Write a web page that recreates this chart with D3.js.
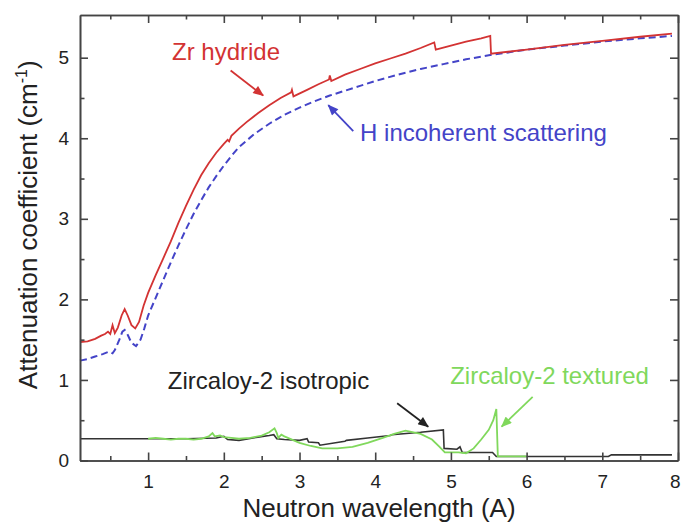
<!DOCTYPE html>
<html>
<head>
<meta charset="utf-8">
<script src="https://cdn.jsdelivr.net/npm/d3@7"></script>
<style>
  body { margin: 0; background: #fff; }
  svg { display: block; font-family: Arial, "Liberation Sans", sans-serif; }
  .axis path, .axis line { stroke: #444; stroke-width: 1.6; }
  .axis text { font-size: 19px; fill: #222; }
</style>
</head>
<body>
<script>
// values
const xTicks = [1, 2, 3, 4, 5, 6, 7, 8]
const xMinor = [0.5, 1.5, 2.5, 3.5, 4.5, 5.5, 6.5, 7.5]
const yTicks = [0, 1, 2, 3, 4, 5]
const yMinor = [0.5, 1.5, 2.5, 3.5, 4.5]

const hydrideX = [0.1, 0.2, 0.3, 0.38, 0.43, 0.47, 0.5, 0.53, 0.56, 0.6, 0.65, 0.69, 0.73, 0.78, 0.83, 0.88, 0.94, 1.0, 1.1, 1.2, 1.3, 1.4, 1.5, 1.6, 1.7, 1.8, 1.9, 2.0, 2.05, 2.07, 2.1, 2.2, 2.3, 2.45, 2.6, 2.75, 2.89, 2.9, 2.92, 3.1, 3.25, 3.39, 3.4, 3.42, 3.6, 3.8, 4.0, 4.2, 4.4, 4.6, 4.78, 4.8, 5.0, 5.2, 5.4, 5.52, 5.53, 6.0, 6.5, 7.0, 7.5, 7.92]
const hydrideY = [1.47, 1.48, 1.51, 1.55, 1.57, 1.6, 1.57, 1.68, 1.58, 1.65, 1.8, 1.88, 1.8, 1.68, 1.64, 1.72, 1.92, 2.08, 2.3, 2.51, 2.72, 2.95, 3.16, 3.36, 3.54, 3.69, 3.82, 3.93, 3.98, 3.96, 4.03, 4.12, 4.2, 4.31, 4.41, 4.5, 4.57, 4.6, 4.52, 4.6, 4.67, 4.73, 4.78, 4.71, 4.79, 4.86, 4.93, 4.99, 5.05, 5.12, 5.19, 5.1, 5.15, 5.2, 5.24, 5.27, 5.05, 5.1, 5.16, 5.21, 5.26, 5.3]

const hIncX = [0.1, 0.2, 0.3, 0.4, 0.48, 0.53, 0.56, 0.62, 0.66, 0.69, 0.73, 0.78, 0.84, 0.9, 0.95, 1.0, 1.1, 1.2, 1.3, 1.4, 1.5, 1.6, 1.7, 1.8, 1.9, 2.0, 2.1, 2.2, 2.4, 2.6, 2.8, 3.0, 3.2, 3.4, 3.6, 3.8, 4.0, 4.3, 4.6, 4.9, 5.2, 5.5, 6.0, 6.5, 7.0, 7.5, 7.92]
const hIncY = [1.24, 1.26, 1.29, 1.32, 1.35, 1.33, 1.37, 1.5, 1.6, 1.62, 1.56, 1.46, 1.42, 1.5, 1.64, 1.8, 2.02, 2.24, 2.46, 2.67, 2.87, 3.06, 3.23, 3.39, 3.53, 3.66, 3.78, 3.89, 4.05, 4.18, 4.29, 4.38, 4.46, 4.53, 4.59, 4.65, 4.71, 4.79, 4.86, 4.92, 4.98, 5.03, 5.1, 5.15, 5.2, 5.24, 5.27]

const isoX = [0.1, 1.0, 1.5, 1.9, 2.0, 2.05, 2.2, 2.45, 2.6, 2.66, 2.7, 2.8, 3.0, 3.1, 3.12, 3.25, 3.27, 3.6, 3.62, 3.9, 4.2, 4.22, 4.6, 4.9, 4.91, 5.08, 5.12, 5.15, 5.55, 5.6, 6.5, 7.08, 7.12, 7.92]
const isoY = [0.27, 0.27, 0.27, 0.28, 0.3, 0.26, 0.25, 0.29, 0.31, 0.32, 0.27, 0.26, 0.25, 0.27, 0.23, 0.22, 0.19, 0.24, 0.25, 0.28, 0.31, 0.32, 0.35, 0.38, 0.15, 0.14, 0.17, 0.1, 0.1, 0.05, 0.05, 0.05, 0.07, 0.07]

const texX = [1.0, 1.1, 1.2, 1.3, 1.4, 1.5, 1.6, 1.7, 1.8, 1.85, 1.88, 1.95, 2.0, 2.1, 2.2, 2.35, 2.5, 2.6, 2.67, 2.7, 2.72, 2.76, 2.8, 2.9, 3.0, 3.15, 3.3, 3.5, 3.7, 3.9, 4.1, 4.25, 4.4, 4.6, 4.75, 4.85, 4.92, 5.1, 5.2, 5.3, 5.4, 5.5, 5.56, 5.6, 5.62, 6.0]
const texY = [0.27, 0.28, 0.27, 0.26, 0.27, 0.27, 0.26, 0.27, 0.3, 0.34, 0.3, 0.31, 0.29, 0.28, 0.27, 0.28, 0.31, 0.35, 0.4, 0.34, 0.28, 0.32, 0.3, 0.26, 0.22, 0.18, 0.15, 0.15, 0.17, 0.22, 0.28, 0.33, 0.37, 0.33, 0.26, 0.17, 0.1, 0.1, 0.09, 0.15, 0.26, 0.38, 0.5, 0.64, 0.05, 0.05]

const WIDTH = 682
const HEIGHT = 526
const margin = { top: 15, right: 4, bottom: 65.5, left: 80 }

const svg = d3.select('body')
  .append('svg')
  .attr('width', WIDTH)
  .attr('height', HEIGHT)

const x = d3.scaleLinear()
  .domain([0.1, 8])
  .range([margin.left, WIDTH - margin.right])

const y = d3.scaleLinear()
  .domain([0, 5.53])
  .range([HEIGHT - margin.bottom, margin.top])

const x0 = margin.left, x1 = WIDTH - margin.right
const y0 = HEIGHT - margin.bottom, y1 = margin.top

// arrow heads
const defs = svg.append('defs')
function marker(id, color) {
  defs.append('marker')
    .attr('id', id)
    .attr('viewBox', '0 0 12 10')
    .attr('refX', 11)
    .attr('refY', 5)
    .attr('markerUnits', 'userSpaceOnUse')
    .attr('markerWidth', 12)
    .attr('markerHeight', 9)
    .attr('orient', 'auto')
    .append('path')
    .attr('d', 'M0,0 L12,5 L0,10 Z')
    .attr('fill', color)
}

const RED = '#d33333'
const BLUE = '#4444c8'
const BLACK = '#222'
const GREEN = '#80d85c'

marker('a-red', RED)
marker('a-blue', BLUE)
marker('a-black', BLACK)
marker('a-green', GREEN)

const line = d3.line()
  .x(d => x(d[0]))
  .y(d => y(d[1]))

const zip = (xs, ys) => xs.map((v, i) => [v, ys[i]])

svg.append('path')
  .datum(zip(isoX, isoY))
  .attr('fill', 'none')
  .attr('stroke', '#333')
  .attr('stroke-width', 1.6)
  .attr('d', line)

svg.append('path')
  .datum(zip(texX, texY))
  .attr('fill', 'none')
  .attr('stroke', GREEN)
  .attr('stroke-width', 1.8)
  .attr('d', line)

svg.append('path')
  .datum(zip(hIncX, hIncY))
  .attr('fill', 'none')
  .attr('stroke', BLUE)
  .attr('stroke-width', 2)
  .attr('stroke-dasharray', '7,4')
  .attr('d', line)

svg.append('path')
  .datum(zip(hydrideX, hydrideY))
  .attr('fill', 'none')
  .attr('stroke', RED)
  .attr('stroke-width', 1.8)
  .attr('d', line)

// axes: ticks point inward on all four sides
const axes = svg.append('g').attr('class', 'axis')

const bottom = axes.append('g')
  .attr('transform', `translate(0,${y0})`)
  .call(d3.axisBottom(x).tickValues(xTicks).tickSize(-8).tickSizeOuter(0).tickPadding(14).tickFormat(d3.format('d')))
axes.append('g')
  .attr('transform', `translate(0,${y0})`)
  .call(d3.axisBottom(x).tickValues(xMinor).tickSize(-4.5).tickSizeOuter(0).tickFormat(''))
axes.append('g')
  .attr('transform', `translate(0,${y1})`)
  .call(d3.axisTop(x).tickValues(xTicks).tickSize(-8).tickSizeOuter(0).tickFormat(''))
axes.append('g')
  .attr('transform', `translate(0,${y1})`)
  .call(d3.axisTop(x).tickValues(xMinor).tickSize(-4.5).tickSizeOuter(0).tickFormat(''))

axes.append('g')
  .attr('transform', `translate(${x0},0)`)
  .call(d3.axisLeft(y).tickValues(yTicks).tickSize(-8).tickSizeOuter(0).tickPadding(11).tickFormat(d3.format('d')))
axes.append('g')
  .attr('transform', `translate(${x0},0)`)
  .call(d3.axisLeft(y).tickValues(yMinor).tickSize(-4.5).tickSizeOuter(0).tickFormat(''))
axes.append('g')
  .attr('transform', `translate(${x1},0)`)
  .call(d3.axisRight(y).tickValues(yTicks).tickSize(-8).tickSizeOuter(0).tickFormat(''))
axes.append('g')
  .attr('transform', `translate(${x1},0)`)
  .call(d3.axisRight(y).tickValues(yMinor).tickSize(-4.5).tickSizeOuter(0).tickFormat(''))

axes.selectAll('text').attr('font-family', null).style('font-size', '19px')
// last label sits on the window edge; keep it inside
bottom.selectAll('.tick text').filter(d => d === 8).attr('text-anchor', 'end').attr('dx', 2)

// axis titles
svg.append('text')
  .attr('x', (x0 + x1) / 2)
  .attr('y', 517)
  .attr('text-anchor', 'middle')
  .style('font-size', '26px')
  .attr('fill', '#222')
  .text('Neutron wavelength (A)')

const yTitle = svg.append('text')
  .attr('transform', `translate(37,${(y0 + y1) / 2 - 13}) rotate(-90)`)
  .attr('text-anchor', 'middle')
  .style('font-size', '26px')
  .attr('fill', '#222')
yTitle.append('tspan').text('Attenuation coefficient (cm')
yTitle.append('tspan').attr('dy', -10).style('font-size', '16px').text('-1')
yTitle.append('tspan').attr('dy', 10).text(')')

// annotations
const labels = [
  { text: 'Zr hydride', at: [1.315, 4.97], color: RED, from: [2.09, 4.84], to: [2.52, 4.53], arrow: 'a-red' },
  { text: 'H incoherent scattering', at: [3.8, 3.96], color: BLUE, from: [3.71, 4.09], to: [3.38, 4.41], arrow: 'a-blue' },
  { text: 'Zircaloy-2 isotropic', at: [1.26, 0.887], color: BLACK, from: [4.29, 0.71], to: [4.70, 0.42], arrow: 'a-black' },
  { text: 'Zircaloy-2 textured', at: [4.99, 0.955], color: GREEN, from: [6.08, 0.79], to: [5.67, 0.42], arrow: 'a-green' },
]

svg.selectAll('.label')
  .data(labels)
  .enter()
  .append('text')
  .attr('class', 'label')
  .attr('x', d => x(d.at[0]))
  .attr('y', d => y(d.at[1]))
  .attr('fill', d => d.color)
  .style('font-size', '24px')
  .text(d => d.text)

svg.selectAll('.arrow')
  .data(labels)
  .enter()
  .append('line')
  .attr('class', 'arrow')
  .attr('x1', d => x(d.from[0]))
  .attr('y1', d => y(d.from[1]))
  .attr('x2', d => x(d.to[0]))
  .attr('y2', d => y(d.to[1]))
  .attr('stroke', d => d.color)
  .attr('stroke-width', 1.8)
  .attr('marker-end', d => `url(#${d.arrow})`)
</script>
</body>
</html>
